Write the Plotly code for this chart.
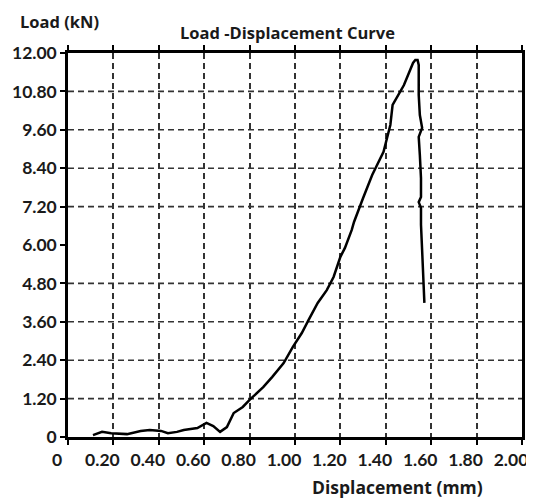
import plotly.graph_objects as go

# Data
displacement = [0.11, 0.15, 0.19, 0.26, 0.32, 0.36, 0.41, 0.44, 0.48, 0.51, 0.54, 0.57,
                0.61, 0.64, 0.67, 0.70, 0.73, 0.77, 0.80, 0.83, 0.86, 0.90, 0.95, 0.99,
                1.03, 1.06, 1.10, 1.14, 1.17, 1.20, 1.22, 1.25, 1.26, 1.30, 1.34, 1.39,
                1.42, 1.43, 1.48, 1.52, 1.53, 1.54, 1.545, 1.545, 1.55, 1.56, 1.545,
                1.55, 1.555, 1.555, 1.545, 1.555, 1.555, 1.56, 1.57]
load = [0.06, 0.16, 0.12, 0.09, 0.19, 0.22, 0.19, 0.12, 0.16, 0.22, 0.25, 0.28,
        0.44, 0.34, 0.16, 0.31, 0.75, 0.94, 1.16, 1.35, 1.56, 1.88, 2.31, 2.81,
        3.25, 3.66, 4.19, 4.59, 5.00, 5.63, 5.91, 6.47, 6.72, 7.47, 8.19, 8.91,
        9.75, 10.38, 11.00, 11.69, 11.78, 11.78, 11.63, 10.69, 10.06, 9.66, 9.38,
        8.81, 8.09, 7.50, 7.34, 7.16, 6.63, 5.84, 4.19]

x_tickvals = [0, 0.2, 0.4, 0.6, 0.8, 1.0, 1.2, 1.4, 1.6, 1.8, 2.0]
x_ticktext = ["0", "0.20", "0.40", "0.60", "0.80", "1.00", "1.20", "1.40", "1.60", "1.80", "2.00"]
y_tickvals = [0, 1.2, 2.4, 3.6, 4.8, 6.0, 7.2, 8.4, 9.6, 10.8, 12.0]
y_ticktext = ["0", "1.20", "2.40", "3.60", "4.80", "6.00", "7.20", "8.40", "9.60", "10.80", "12.00"]
y_gridlines = [1.2, 2.4, 3.6, 4.8, 7.2, 8.4, 9.6, 10.8]

title_text = "Load -Displacement Curve"
y_title = "Load (kN)"
x_title = "Displacement (mm)"

TICK_FONT = "Lato"
TITLE_FONT = "Open Sans"

# page offset of the plot div (default body margin of the html page)
OFF = 8
PLOT_L, PLOT_T, PLOT_R, PLOT_B = 68, 53, 522, 437  # page pixels
pw, ph = PLOT_R - PLOT_L, PLOT_B - PLOT_T


def px(xp):
    return (xp - PLOT_L) / pw


def py(yp):
    return (PLOT_B - yp) / ph


fig = go.Figure()
fig.add_trace(go.Scatter(x=displacement, y=load, mode="lines",
                         line=dict(color="black", width=2.5), showlegend=False))

for yv in y_gridlines:
    fig.add_shape(type="line", xref="paper", yref="y", x0=0, x1=1, y0=yv, y1=yv,
                  line=dict(color="#333333", width=1.6, dash="6px,4px"), layer="below")

W, H = 534 - OFF, 501 - OFF
fig.update_layout(
    width=W, height=H,
    margin=dict(l=PLOT_L - OFF, r=W - (PLOT_R - OFF), t=PLOT_T - OFF, b=H - (PLOT_B - OFF)),
    paper_bgcolor="white", plot_bgcolor="white",
    font=dict(family=TICK_FONT, color="#1a1a1a", size=16),
    annotations=[
        dict(text=f"<b>{title_text}</b>", x=px(287), y=py(32), xref="paper", yref="paper",
             xanchor="center", yanchor="middle",
             showarrow=False, font=dict(size=16.5, family=TITLE_FONT)),
        dict(text=f"<b>{y_title}</b>", x=px(59), y=py(21), xref="paper", yref="paper",
             xanchor="center", yanchor="middle",
             showarrow=False, font=dict(size=16.5, family=TITLE_FONT)),
        dict(text=f"<b>{x_title}</b>", x=px(397), y=py(487), xref="paper", yref="paper",
             xanchor="center", yanchor="middle",
             showarrow=False, font=dict(size=17.5, family=TITLE_FONT)),
    ],
)

fig.update_xaxes(
    range=[0, 2.0], tickvals=x_tickvals, ticktext=x_ticktext,
    showgrid=True, gridcolor="#333333", griddash="6px,4px", gridwidth=1.6,
    showline=True, linecolor="black", linewidth=2.5, mirror="ticks",
    ticks="outside", ticklen=5, tickwidth=1.5, tickcolor="black",
    tickfont=dict(size=17.5, family=TICK_FONT, weight="bold"), ticklabelstandoff=0,
    ticklabelshift=-11,
    ticklabeloverflow="allow", automargin=False,
    zeroline=False,
)
fig.update_yaxes(
    range=[0, 12.0], tickvals=y_tickvals, ticktext=y_ticktext,
    showgrid=False,
    showline=True, linecolor="black", linewidth=2.5, mirror=True,
    ticks="outside", ticklen=5, tickwidth=1.5, tickcolor="black",
    tickfont=dict(size=17.5, family=TICK_FONT, weight="bold"),
    automargin=False,
    zeroline=False,
)

fig.write_html("out.html")
